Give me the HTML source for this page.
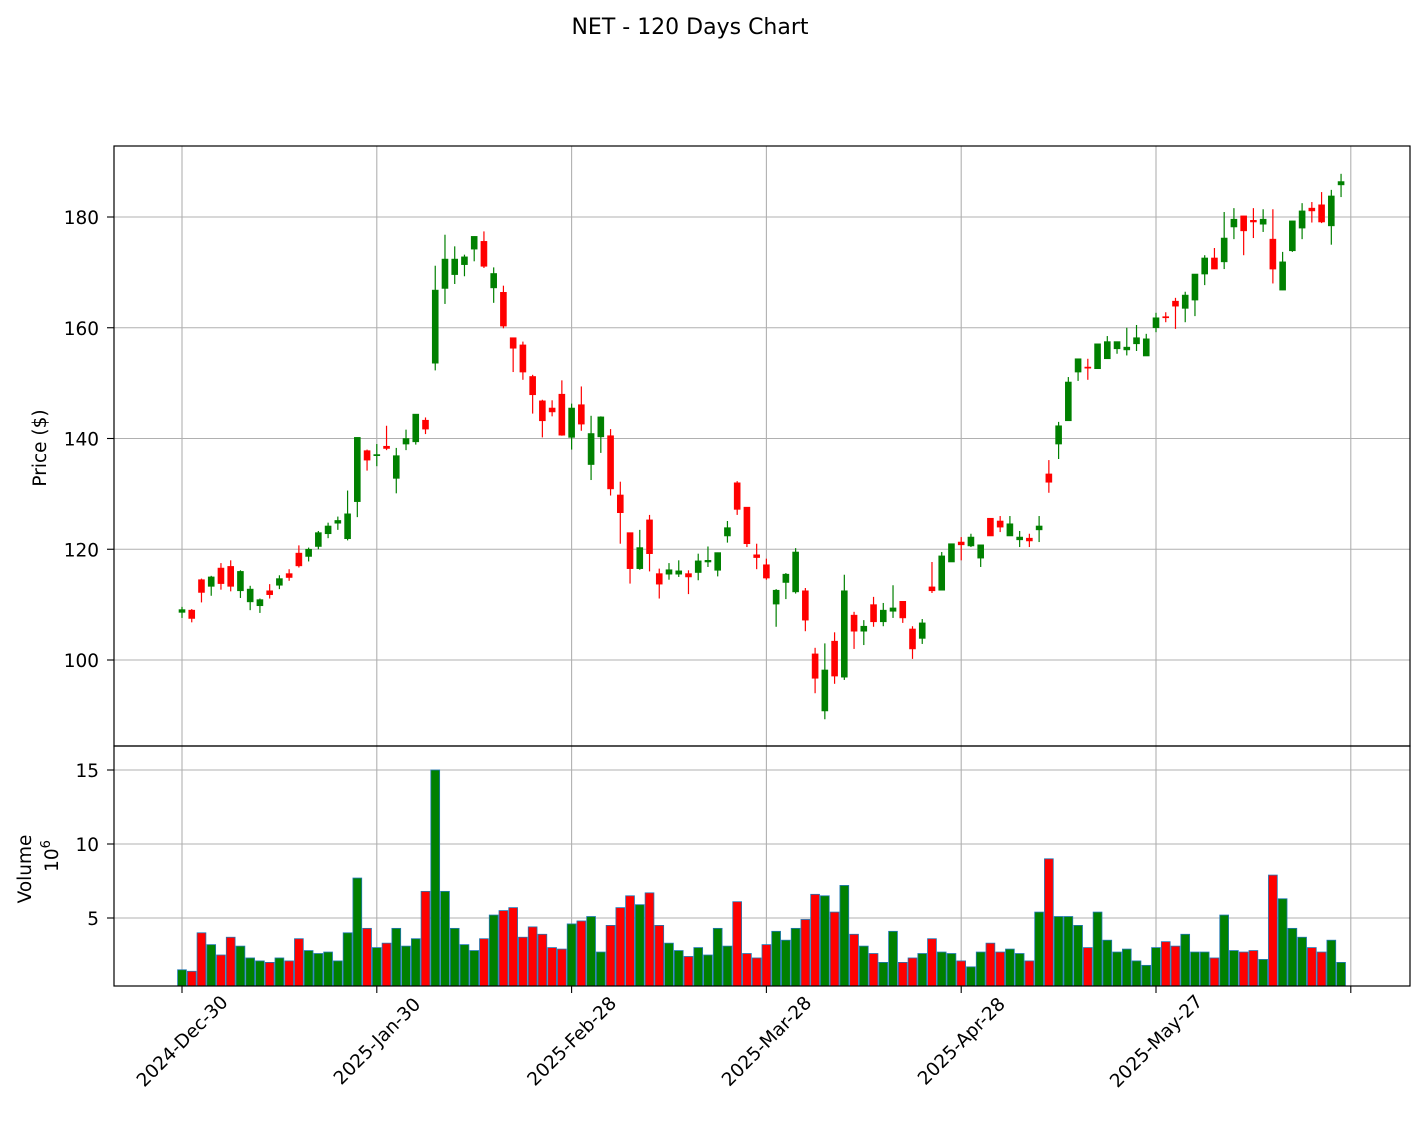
<!DOCTYPE html>
<html><head><meta charset="utf-8"><style>
html,body{margin:0;padding:0;background:#fff;}
svg{display:block;font-family:"DejaVu Sans","Liberation Sans",sans-serif;}
</style></head><body>
<svg id="chart" width="1424" height="1127" viewBox="0 0 1424 1127" xmlns="http://www.w3.org/2000/svg">
<rect width="1424" height="1127" fill="#fff"/>
<text x="690" y="34" font-size="22" text-anchor="middle">NET - 120 Days Chart</text>
<g id="grid"></g>
<g id="vol"></g>
<g id="candles"></g>
<g id="axes"></g>
<text transform="translate(46,448) rotate(-90)" font-size="18.5" text-anchor="middle">Price ($)</text>
<text transform="translate(31,869) rotate(-90)" font-size="18.5" text-anchor="middle">Volume</text>
<text transform="translate(58,856) rotate(-90)" font-size="18.5" text-anchor="middle">10<tspan dy="-8" font-size="13">6</tspan></text>
</svg>
<script>
const opens=[108.6,109,114.5,113.3,116.6,116.9,112.5,110.5,109.8,112.5,113.5,115.6,119.3,118.7,120.5,122.8,124.7,121.9,128.6,137.8,
136.9,138.6,132.8,139,139.4,143.3,153.6,167.1,169.6,171.4,174.2,175.6,167.2,166.4,158.2,156.9,151.2,146.8,145.5,148,
140.2,146.1,135.3,140.3,140.5,129.8,123,116.5,125.3,115.6,115.5,115.5,115.6,115.8,117.7,116.2,122.4,132,127.6,119,
117.2,110.1,114,112.3,112.5,101.1,90.8,103.4,96.9,108.1,105.2,110,106.9,108.8,110.6,105.6,103.9,113.2,112.6,117.7,
121.3,120.6,118.4,125.6,125.1,122.4,121.7,122,123.5,133.6,139,143.2,152,152.9,152.6,154.4,156.2,156,157.1,154.9,
160,162,164.8,163.5,165,169.7,172.6,171.9,178.2,180.2,179.4,178.7,176,166.8,173.9,178,181.6,182.2,178.4,185.8];
const highs=[109.6,109.2,114.7,115.2,117.5,118,116.2,113.4,111.1,113.7,115.3,116.4,120.7,120.3,123.3,124.8,125.9,130.6,140.2,138,
139,142.3,138.3,141.6,144.4,143.8,171.2,176.8,174.7,173.2,176.5,177.4,170.9,167.6,158.2,157.5,151.5,147,146.9,150.5,
146.3,149.4,144.1,144,141.7,132.2,123,123.5,126.2,116.5,117.5,118,116.2,119.2,120.5,119.4,125.1,132.3,127.6,121,
118.3,112.8,115.7,120.2,113,102.2,103,105,115.4,108.7,107.2,111.4,110.3,113.5,110.6,106.1,107.4,117.7,119.5,121,
122.2,122.8,120.8,125.6,126,126,123.3,122.8,126,136.1,143,151.1,154.4,154.4,157.1,158.5,157.5,160,160.5,158.9,
162.7,162.8,165.4,166.5,169.7,173.1,174.4,180.9,181.6,180.2,181.6,181.4,181.4,173.7,179.3,182.5,182.7,184.5,184.9,187.8];
const lows=[107.6,106.8,110.4,111.6,112.7,112.4,111.2,109,108.5,111.1,112.8,114.3,116.7,117.8,120,122,123.5,121.6,125.8,134.2,
135,137.9,130.1,137.9,138.9,140.8,152.3,164.3,167.9,169.3,172,170.8,164.5,159.9,152,150.6,144.5,140.2,144,140.5,
138,141.4,132.5,137.4,129.7,121,113.8,116.3,116,111.1,114.5,115,111.9,114.4,116.8,115.1,121.2,126.2,120.4,116.4,
114.5,106,111,112,105.2,94,89.3,95.7,96.4,102,102.7,106,106.1,107.6,106.7,100.2,102.9,112.1,112.6,117.7,
118,120.4,116.8,122.4,123.1,122.4,120.4,120.4,121.3,130.2,136.3,143.2,150.4,150.6,152.6,154.4,155.3,155,155.8,154.9,
159.2,161,159.8,161,162.1,167.7,170.6,170.6,176,173.1,176.2,177.3,168,166.8,173.7,176,179,178.9,175,183.6];
const closes=[109.1,107.5,112.2,115,113.8,113.3,116,112.8,110.9,111.8,114.7,114.9,117,120,123,124.2,125.2,126.4,140.2,136.1,
137.1,138.2,136.9,140,144.4,141.7,166.8,172.4,172.4,172.8,176.5,171.1,169.8,160.3,156.3,152,147.9,143.2,144.8,140.6,
145.5,142.6,140.9,143.9,130.9,126.6,116.5,120.3,119.2,113.7,116.3,116.1,115,117.9,118,119.4,123.9,127.2,121,118.5,
114.8,112.6,115.5,119.5,107.2,96.7,98.2,97.1,112.5,105.2,106.1,106.9,109,109.4,107.6,102,106.7,112.5,118.8,121,
120.8,122.2,120.8,122.4,124,124.6,122.2,121.5,124.2,132.1,142.3,150.2,154.4,152.7,157.1,157.5,157.5,156.5,158.2,158,
161.8,161.8,163.9,165.9,169.7,172.6,170.6,176.2,179.6,177.5,179.1,179.6,170.6,171.9,179.3,181.1,181.1,179.1,183.8,186.4];
const volumes=[1.5,1.4,4.0,3.2,2.5,3.7,3.1,2.3,2.1,2.0,2.3,2.1,3.6,2.8,2.6,2.7,2.1,4.0,7.7,4.3,
3.0,3.3,4.3,3.1,3.6,6.8,15.0,6.8,4.3,3.2,2.8,3.6,5.2,5.5,5.7,3.7,4.4,3.9,3.0,2.9,
4.6,4.8,5.1,2.7,4.5,5.7,6.5,5.9,6.7,4.5,3.3,2.8,2.4,3.0,2.5,4.3,3.1,6.1,2.6,2.3,
3.2,4.1,3.5,4.3,4.9,6.6,6.5,5.4,7.2,3.9,3.1,2.6,2.0,4.1,2.0,2.3,2.6,3.6,2.7,2.6,
2.1,1.7,2.7,3.3,2.7,2.9,2.6,2.1,5.4,9.0,5.1,5.1,4.5,3.0,5.4,3.5,2.7,2.9,2.1,1.8,
3.0,3.4,3.1,3.9,2.7,2.7,2.3,5.2,2.8,2.7,2.8,2.2,7.9,6.3,4.3,3.7,3.0,2.7,3.5,2.0];
const priceTicks=[100,120,140,160,180];
const volTicks=[5,10,15];
const xTickIdx=[0,20,40,60,80,100,120];
const xTickLabels=["2024-Dec-30","2025-Jan-30","2025-Feb-28","2025-Mar-28","2025-Apr-28","2025-May-27",""];

const NS="http://www.w3.org/2000/svg";
const L=114,R=1410,PT=146,PB=746,VT=746,VB=986;
const xOf=i=>182+i*9.74;
const yP=p=>217+(180-p)*5.5375;
const yV=v=>992-v*14.8;
function mk(tag,attrs,parent){const e=document.createElementNS(NS,tag);for(const k in attrs)e.setAttribute(k,attrs[k]);parent.appendChild(e);return e;}
const grid=document.getElementById('grid'),vol=document.getElementById('vol'),cg=document.getElementById('candles'),ax=document.getElementById('axes');

xTickIdx.forEach((t,k)=>{
  const x=xOf(t);
  let g=mk('line',{x1:x,x2:x,y1:PT,y2:PB,stroke:'#b0b0b0','stroke-width':1.1},grid);
  
  
  g=mk('line',{x1:x,x2:x,y1:VT,y2:VB,stroke:'#b0b0b0','stroke-width':1.1},grid);
  
  
  const tk=mk('line',{x1:x,x2:x,y1:VB,y2:VB+7,stroke:'#000','stroke-width':1.1},ax);
  
  
  if(xTickLabels[k]){
    const t2=mk('text',{transform:`translate(${x},${VB+55}) rotate(-45)`,'font-size':18.5,'text-anchor':'middle',dy:'0.35em'},ax);
    t2.textContent=xTickLabels[k];
    
    
  }
});
priceTicks.forEach(p=>{
  const y=yP(p);
  const g=mk('line',{x1:L,x2:R,y1:y,y2:y,stroke:'#b0b0b0','stroke-width':1.1},grid);
  
  
  const tk=mk('line',{x1:L-7,x2:L,y1:y,y2:y,stroke:'#000','stroke-width':1.1},ax);
  
  
  const t=mk('text',{x:L-15,y:y+7,'font-size':18.5,'text-anchor':'end'},ax);
  t.textContent=p;
  
  
});
volTicks.forEach(v=>{
  const y=yV(v);
  const g=mk('line',{x1:L,x2:R,y1:y,y2:y,stroke:'#b0b0b0','stroke-width':1.1},grid);
  
  
  const tk=mk('line',{x1:L-7,x2:L,y1:y,y2:y,stroke:'#000','stroke-width':1.1},ax);
  
  
  const t=mk('text',{x:L-15,y:y+7,'font-size':18.5,'text-anchor':'end'},ax);
  t.textContent=v;
  
  
});
volumes.forEach((v,i)=>{
  const up=closes[i]>=opens[i];
  const x=xOf(i),y=yV(v);
  const r=mk('rect',{x:x-4.4,y:y,width:8.8,height:Math.max(0,VB-y),fill:up?'#008000':'#ff0000',stroke:'#1f77b4','stroke-width':0.8},vol);
  
  
});
opens.forEach((o,i)=>{
  const c=closes[i],up=c>=o,col=up?'#008000':'#ff0000',x=xOf(i);
  const w=mk('line',{x1:x,x2:x,y1:yP(highs[i]),y2:yP(lows[i]),stroke:col,'stroke-width':1.2},cg);
  
  
  const top=yP(Math.max(o,c)),bot=yP(Math.min(o,c));
  const b=mk('rect',{x:x-3,y:top,width:6,height:Math.max(1,bot-top),fill:col,stroke:col,'stroke-width':0.6},cg);
  
  
});
let f=mk('rect',{x:L,y:PT,width:R-L,height:PB-PT,fill:'none',stroke:'#000','stroke-width':1.2},ax);


f=mk('rect',{x:L,y:VT,width:R-L,height:VB-VT,fill:'none',stroke:'#000','stroke-width':1.2},ax);


</script>
</body></html>
